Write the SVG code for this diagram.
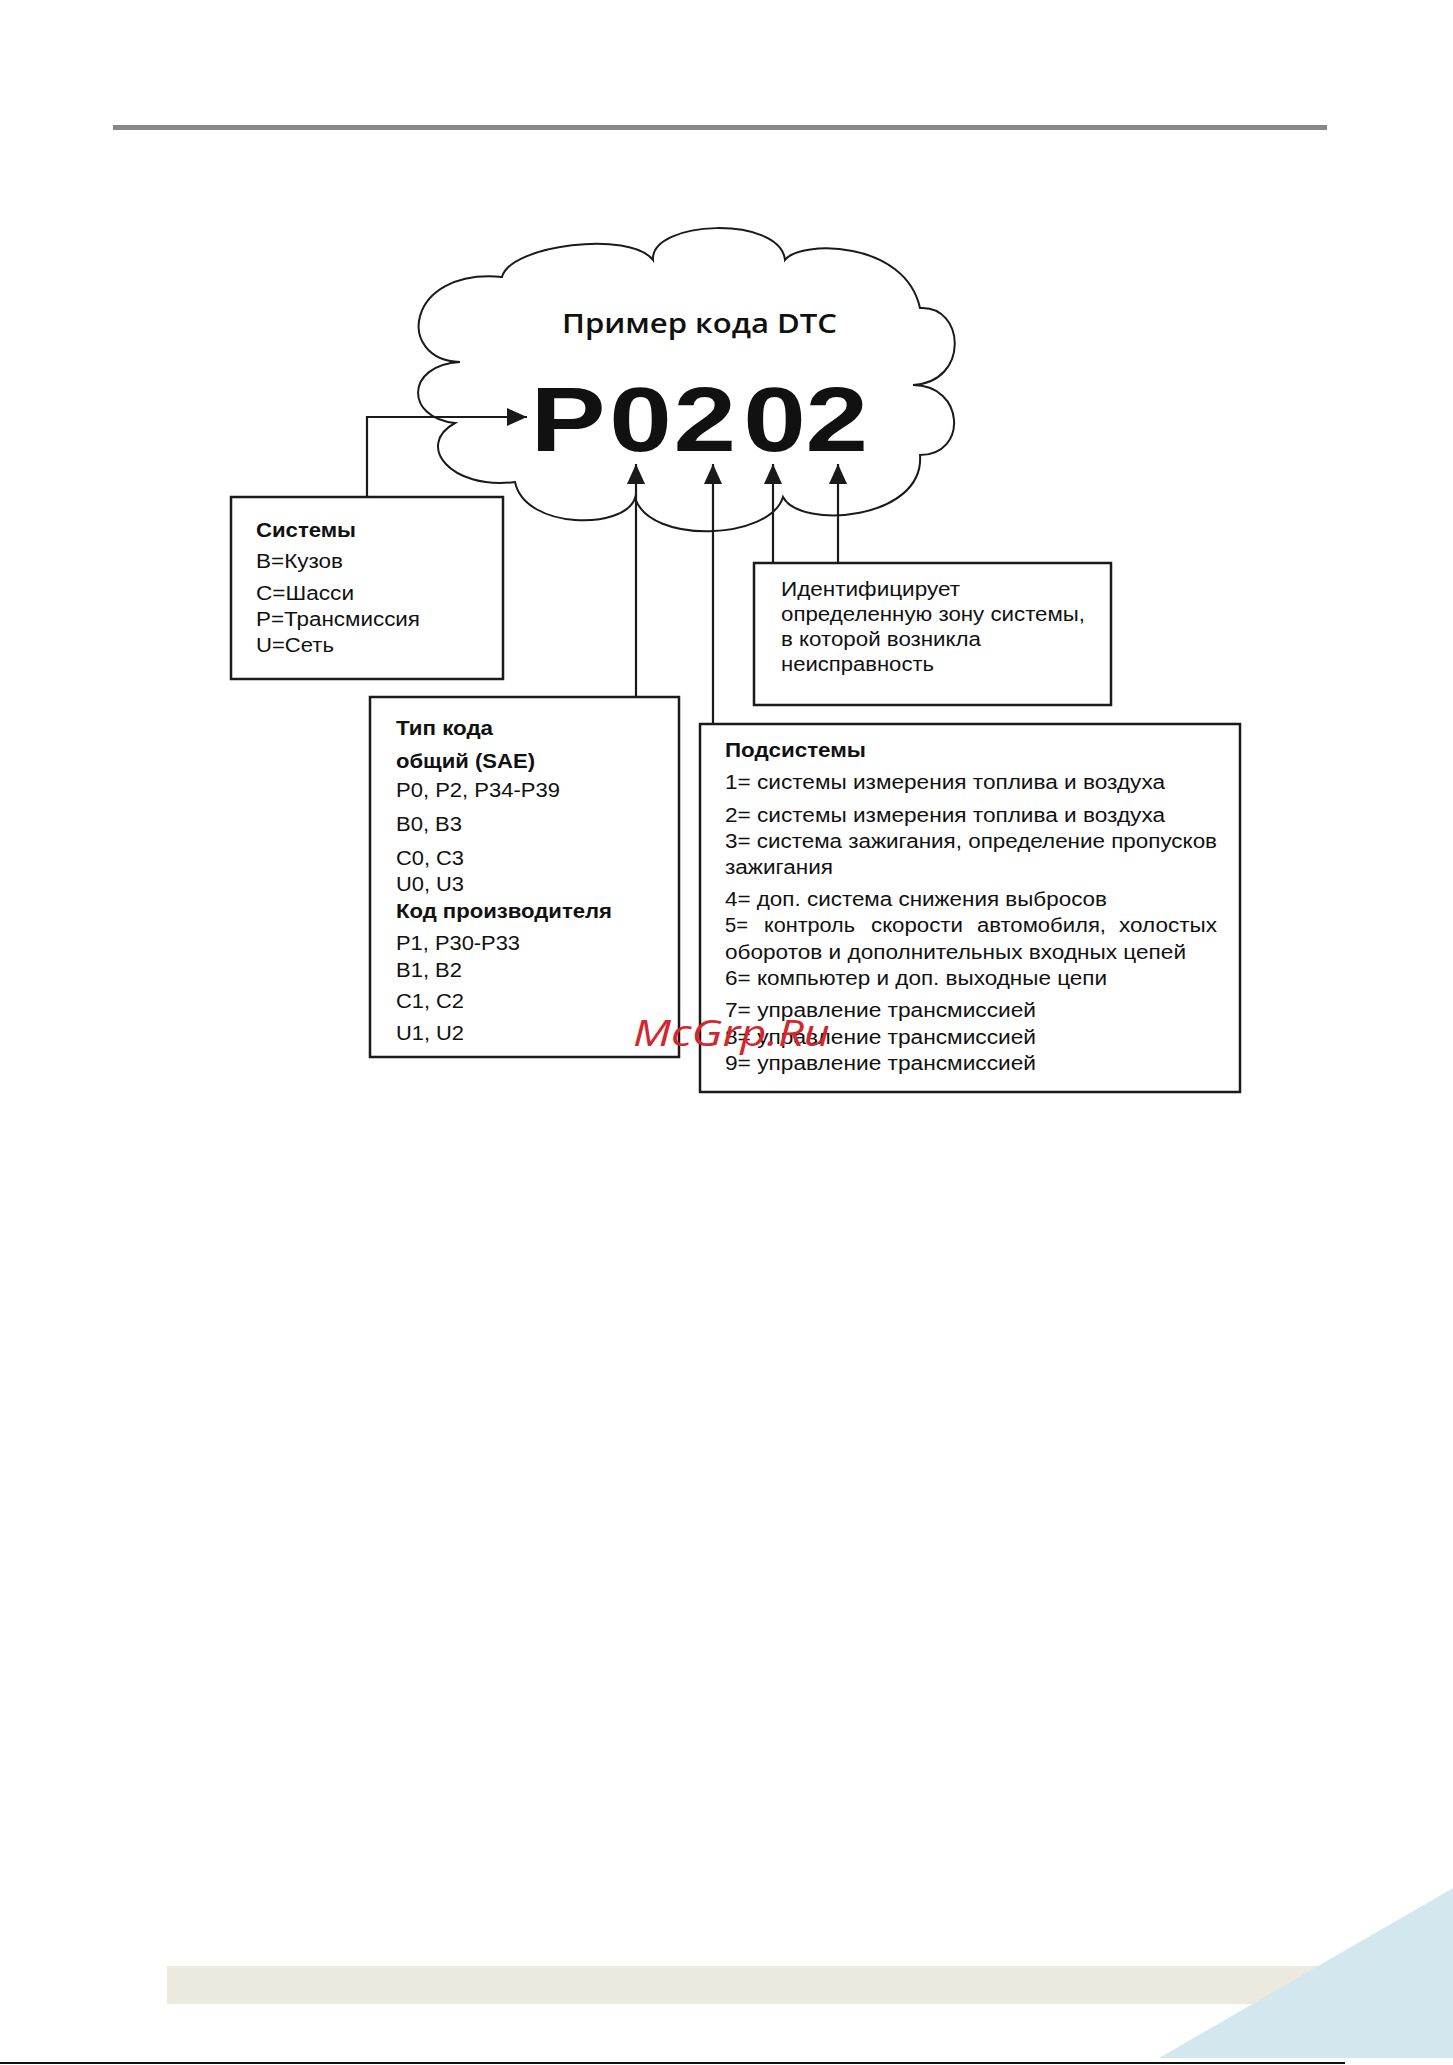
<svg xmlns="http://www.w3.org/2000/svg" width="1453" height="2065" viewBox="0 0 1453 2065">
<style>
.t{font-family:"Liberation Sans",Arial,sans-serif;font-size:20px;fill:#111}
.b{font-weight:bold}
.box{fill:#fff;stroke:#1a1a1a;stroke-width:2.5}
.cn{fill:none;stroke:#1a1a1a;stroke-width:2.2}
</style>
<defs>
<marker id="ah" markerUnits="userSpaceOnUse" markerWidth="20" markerHeight="18" viewBox="0 0 20 18" refX="20" refY="9" orient="auto">
<path d="M0,0 L20,9 L0,18 z" fill="#1a1a1a"/>
</marker>
</defs>
<rect width="1453" height="2065" fill="#fff"/>
<g id="page">
<rect x="113" y="125" width="1214" height="5" fill="#88888c"/>
<rect x="167" y="1966" width="1163" height="38" fill="#ece9df"/>
<polygon points="1159,2058 1453,1888 1453,2058" fill="#d3e8ee"/>
<rect x="0" y="2062" width="1345" height="2" fill="#111"/>
</g>
<g id="cloud">
<path d="M502,277 C510,245 630,230 653,260 C650,220 780,215 785,260 C800,240 905,240 920,308 C965,305 970,382 913,385 C965,385 968,455 920,455 C925,520 800,530 783,497 C770,540 650,545 635,498 C625,530 525,530 515,482 C450,490 415,445 455,423 C405,418 405,365 460,362 C395,360 405,268 502,277 Z" fill="#fff" stroke="#1a1a1a" stroke-width="2"/>
<text x="562" y="333" font-family="'Open Sans','Liberation Sans',sans-serif" font-weight="600" font-size="27" fill="#111" textLength="275" lengthAdjust="spacingAndGlyphs">Пример кода DTC</text>
<text transform="scale(1.25 1)" x="424.4 487.4 538.9 594.6 644.5" y="451" font-family="'Liberation Sans',Arial,sans-serif" font-weight="bold" font-size="90" fill="#111">P0202</text>
</g>
<g id="systems">
<rect class="box" x="231" y="497" width="272" height="182"/>
<text class="t b" x="256" y="537" textLength="100" lengthAdjust="spacingAndGlyphs">Системы</text>
<text class="t" x="256" y="568" textLength="87" lengthAdjust="spacingAndGlyphs">B=Кузов</text>
<text class="t" x="256" y="600" textLength="98" lengthAdjust="spacingAndGlyphs">C=Шасси</text>
<text class="t" x="256" y="626" textLength="164" lengthAdjust="spacingAndGlyphs">P=Трансмиссия</text>
<text class="t" x="256" y="652" textLength="78" lengthAdjust="spacingAndGlyphs">U=Сеть</text>
</g>
<g id="area">
<rect class="box" x="754" y="563" width="357" height="142"/>
<text class="t" x="781" y="596" textLength="179" lengthAdjust="spacingAndGlyphs">Идентифицирует</text>
<text class="t" x="781" y="621" textLength="304" lengthAdjust="spacingAndGlyphs">определенную зону системы,</text>
<text class="t" x="781" y="646" textLength="200" lengthAdjust="spacingAndGlyphs">в которой возникла</text>
<text class="t" x="781" y="671" textLength="153" lengthAdjust="spacingAndGlyphs">неисправность</text>
</g>
<g id="codetype">
<rect class="box" x="370" y="697" width="309" height="360"/>
<text class="t b" x="396" y="735" textLength="97" lengthAdjust="spacingAndGlyphs">Тип кода</text>
<text class="t b" x="396" y="768" textLength="139" lengthAdjust="spacingAndGlyphs">общий (SAE)</text>
<text class="t" x="396" y="797" textLength="164" lengthAdjust="spacingAndGlyphs">P0, P2, P34-P39</text>
<text class="t" x="396" y="831" textLength="66" lengthAdjust="spacingAndGlyphs">B0, B3</text>
<text class="t" x="396" y="865" textLength="68" lengthAdjust="spacingAndGlyphs">C0, C3</text>
<text class="t" x="396" y="891" textLength="68" lengthAdjust="spacingAndGlyphs">U0, U3</text>
<text class="t b" x="396" y="918" textLength="216" lengthAdjust="spacingAndGlyphs">Код производителя</text>
<text class="t" x="396" y="950" textLength="124" lengthAdjust="spacingAndGlyphs">P1, P30-P33</text>
<text class="t" x="396" y="977" textLength="66" lengthAdjust="spacingAndGlyphs">B1, B2</text>
<text class="t" x="396" y="1008" textLength="68" lengthAdjust="spacingAndGlyphs">C1, C2</text>
<text class="t" x="396" y="1040" textLength="68" lengthAdjust="spacingAndGlyphs">U1, U2</text>
</g>
<g id="subsystems">
<rect class="box" x="700" y="724" width="540" height="368"/>
<text class="t b" x="725" y="757" textLength="141" lengthAdjust="spacingAndGlyphs">Подсистемы</text>
<text class="t" x="725" y="789" textLength="440" lengthAdjust="spacingAndGlyphs">1= системы измерения топлива и воздуха</text>
<text class="t" x="725" y="822" textLength="440" lengthAdjust="spacingAndGlyphs">2= системы измерения топлива и воздуха</text>
<text class="t" x="725" y="848" textLength="492" lengthAdjust="spacingAndGlyphs">3= система зажигания, определение пропусков</text>
<text class="t" x="725" y="874" textLength="108" lengthAdjust="spacingAndGlyphs">зажигания</text>
<text class="t" x="725" y="906" textLength="382" lengthAdjust="spacingAndGlyphs">4= доп. система снижения выбросов</text>
<text class="t" y="932"><tspan x="725" textLength="23" lengthAdjust="spacingAndGlyphs">5=</tspan> <tspan x="764" textLength="91" lengthAdjust="spacingAndGlyphs">контроль</tspan> <tspan x="871" textLength="92" lengthAdjust="spacingAndGlyphs">скорости</tspan> <tspan x="977" textLength="129" lengthAdjust="spacingAndGlyphs">автомобиля,</tspan> <tspan x="1119" textLength="98" lengthAdjust="spacingAndGlyphs">холостых</tspan></text>
<text class="t" x="725" y="959" textLength="461" lengthAdjust="spacingAndGlyphs">оборотов и дополнительных входных цепей</text>
<text class="t" x="725" y="985" textLength="382" lengthAdjust="spacingAndGlyphs">6= компьютер и доп. выходные цепи</text>
<text class="t" x="725" y="1017" textLength="311" lengthAdjust="spacingAndGlyphs">7= управление трансмиссией</text>
<text class="t" x="725" y="1044" textLength="311" lengthAdjust="spacingAndGlyphs">8= управление трансмиссией</text>
<text class="t" x="725" y="1070" textLength="311" lengthAdjust="spacingAndGlyphs">9= управление трансмиссией</text>
</g>
<g id="connectors">
<polyline class="cn" points="367,497 367,417 527,417" marker-end="url(#ah)"/>
<line class="cn" x1="636" y1="697" x2="636" y2="464" marker-end="url(#ah)"/>
<line class="cn" x1="713" y1="724" x2="713" y2="464" marker-end="url(#ah)"/>
<line class="cn" x1="773" y1="563" x2="773" y2="464" marker-end="url(#ah)"/>
<line class="cn" x1="838" y1="563" x2="838" y2="464" marker-end="url(#ah)"/>
</g>
<text x="633" y="1046" font-family="'Open Sans','Liberation Sans',sans-serif" font-style="italic" font-size="36" fill="#d4262c" textLength="197" lengthAdjust="spacingAndGlyphs">McGrp.Ru</text>
</svg>
